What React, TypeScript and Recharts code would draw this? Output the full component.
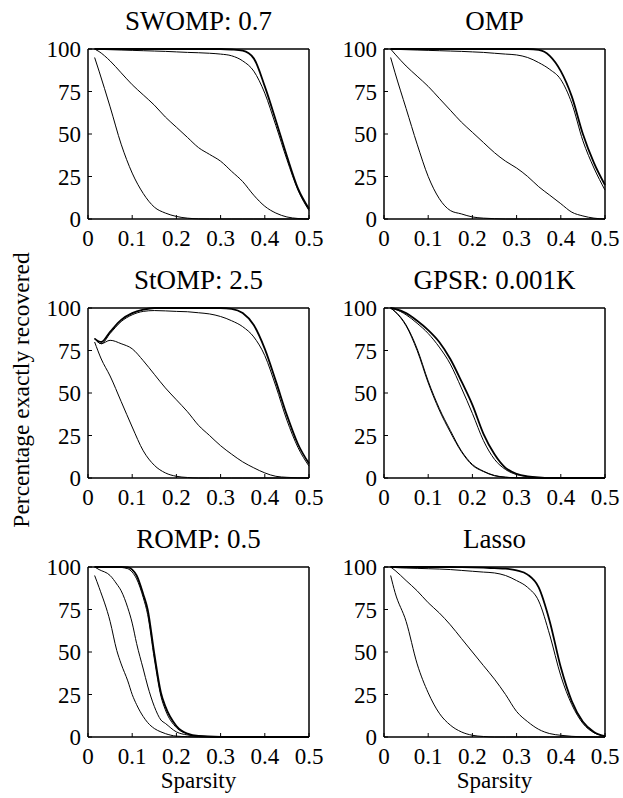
import React from "react";
import { LineChart, Line, XAxis, YAxis } from "recharts";

// sparsity sample points (shared by most panels)
const xGrid = [0.015, 0.025, 0.05, 0.075, 0.1, 0.125, 0.15, 0.175, 0.2, 0.225, 0.25, 0.275, 0.3, 0.325, 0.35, 0.375, 0.4, 0.425, 0.45, 0.475, 0.5];
const xGridStomp = [0.015, 0.03, 0.05, 0.075, 0.1, 0.125, 0.15, 0.175, 0.2, 0.225, 0.25, 0.275, 0.3, 0.325, 0.35, 0.375, 0.4, 0.425, 0.45, 0.475, 0.5];
const xGridRomp = [0.015, 0.025, 0.05, 0.065, 0.075, 0.09, 0.1, 0.11, 0.125, 0.135, 0.15, 0.165, 0.175, 0.2, 0.225, 0.25, 0.3, 0.35, 0.4, 0.45, 0.5];

const xTicks = [0, 0.1, 0.2, 0.3, 0.4, 0.5];
const yTicks = [0, 25, 50, 75, 100];

// SWOMP: 0.7
const swompA = [100, 100, 100, 100, 100, 100, 100, 100, 100, 100, 100, 100, 100, 99.7, 99, 94.5, 78, 58, 37, 18, 6];
const swompB = [100, 99.8, 99.6, 99.4, 99.2, 99, 98.8, 98.6, 98.3, 98, 97.8, 97.5, 97, 96, 93, 87, 74, 55, 35, 17, 5];
const swompC = [100, 98.5, 93, 86, 79, 73, 67, 60, 54, 48, 42, 38, 34, 28, 22, 14, 7.5, 3.5, 1.2, 0.3, 0];
const swompD = [95, 87, 66, 44, 27, 15, 7, 3.5, 1.5, 0.5, 0.1, 0, 0, 0, 0, 0, 0, 0, 0, 0, 0];

// OMP
const ompA = [100, 100, 100, 100, 100, 100, 100, 100, 100, 100, 100, 100, 100, 100, 99.5, 96, 87, 72, 50, 33, 20];
const ompB = [100, 99.8, 99.6, 99.4, 99.2, 99, 98.8, 98.6, 98.3, 98, 97.5, 97, 96.5, 95, 92, 88, 82, 68, 46, 30, 17];
const ompC = [100, 97, 90, 84, 78, 71, 64, 57, 51, 45, 39, 34, 30, 25, 19, 14, 9, 4, 1.8, 0.5, 0];
const ompD = [95, 86, 65, 44, 25, 12, 5, 3, 1.2, 0.5, 0.2, 0, 0, 0, 0, 0, 0, 0, 0, 0, 0];

// StOMP: 2.5
const stompA = [82, 80, 86, 93, 97, 99, 100, 100, 100, 100, 100, 100, 100, 99.5, 97, 90, 76, 57, 37, 20, 8.5];
const stompB = [82, 79, 85, 92, 96, 98, 98.5, 98.3, 98, 97.8, 97.2, 96.5, 95, 92.5, 89, 83, 72, 54, 34, 18, 7];
const stompC = [82, 79, 81, 79, 76, 69, 61, 53, 46, 39, 31, 25, 19, 14, 9.5, 6, 3, 1, 0.4, 0.1, 0];
const stompD = [80, 70, 60, 45, 30, 16, 7.5, 3, 1, 0.3, 0, 0, 0, 0, 0, 0, 0, 0, 0, 0, 0];

// GPSR: 0.001K
const gpsrA = [100, 99.5, 97, 92.5, 87, 80, 70, 57, 43, 26, 14, 6, 2.5, 1, 0.3, 0, 0, 0, 0, 0, 0];
const gpsrB = [100, 99.3, 96, 91, 85, 77, 67, 53, 38, 22, 11, 5, 2, 0.8, 0.2, 0, 0, 0, 0, 0, 0];
const gpsrC = [100, 98, 90, 76, 57, 41, 28, 16, 8, 4, 1.5, 0.5, 0.1, 0, 0, 0, 0, 0, 0, 0, 0];
const gpsrD = [100, 97.8, 89.5, 75, 56, 40, 27, 15.5, 7.5, 3.8, 1.3, 0.4, 0.1, 0, 0, 0, 0, 0, 0, 0, 0];

// ROMP: 0.5
const rompA = [100, 100, 100, 100, 100, 99.8, 98.5, 95, 84, 75, 49, 26, 18, 6.5, 2, 0.6, 0.1, 0, 0, 0, 0];
const rompB = [100, 100, 100, 100, 99.8, 99, 97, 93, 82, 72, 46, 24, 16, 5.5, 1.8, 0.5, 0.1, 0, 0, 0, 0];
const rompC = [100, 98.5, 95, 90, 86, 76, 67, 55, 40, 30, 18, 10, 8, 3, 1.2, 0.5, 0.1, 0, 0, 0, 0];
const rompD = [95, 88, 68, 51, 43, 33, 25, 19, 12, 8.5, 5, 3, 2, 0.5, 0.2, 0, 0, 0, 0, 0, 0];

// Lasso
const lassoA = [100, 100, 100, 100, 100, 100, 100, 99.9, 99.8, 99.6, 99.3, 99, 98, 95.5, 88, 68, 41, 21, 9, 3, 0.5];
const lassoB = [100, 99.7, 99.4, 99.2, 99, 98.8, 98.5, 98, 97.5, 97, 96.5, 95, 92, 88, 80, 60, 36, 19, 8, 2.5, 0.5];
const lassoC = [100, 98, 92, 86, 79, 73, 66, 58, 50, 42, 34, 25, 15, 9, 4.5, 2, 1, 0.4, 0.1, 0, 0];
const lassoD = [95, 85, 68, 43, 26, 14, 7, 3, 1, 0.3, 0, 0, 0, 0, 0, 0, 0, 0, 0, 0, 0];

const FONT = "Liberation Serif";
const W = 221;
const H = 170;
const PAD_L = 70;
const PAD_T = 40;
const PAD_R = 20;
const PAD_B = 40;

const tickStyle = { fontFamily: FONT, fontSize: 23, fill: "#000" };
const boxLine = { stroke: "#000", strokeWidth: 1.5 };
const tickLine = { stroke: "#000", strokeWidth: 1 };

const panels = [
  { title: "SWOMP: 0.7", left: 88, top: 49, xs: xGrid, curves: [swompA, swompB, swompC, swompD] },
  { title: "OMP", left: 384, top: 49, xs: xGrid, curves: [ompA, ompB, ompC, ompD] },
  { title: "StOMP: 2.5", left: 88, top: 308, xs: xGridStomp, curves: [stompA, stompB, stompC, stompD] },
  { title: "GPSR: 0.001K", left: 384, top: 308, xs: xGrid, curves: [gpsrA, gpsrB, gpsrC, gpsrD] },
  { title: "ROMP: 0.5", left: 88, top: 567, xs: xGridRomp, curves: [rompA, rompB, rompC, rompD] },
  { title: "Lasso", left: 384, top: 567, xs: xGrid, curves: [lassoA, lassoB, lassoC, lassoD] },
];

function Panel({ left, top, xs, curves }: { left: number; top: number; xs: number[]; curves: number[][] }) {
  const series = curves.map((c) => xs.map((x, i) => ({ x, y: c[i] })));
  return (
    <div style={{ position: "absolute", left: left - PAD_L, top: top - PAD_T }}>
      <LineChart
        width={W + PAD_L + PAD_R}
        height={H + PAD_T + PAD_B}
        margin={{ top: PAD_T - 1, right: PAD_R - 1, bottom: 0, left: 0 }}
        style={{ fontFamily: FONT }}
      >
        <XAxis
          xAxisId="b"
          type="number"
          dataKey="x"
          domain={[0, 0.5]}
          ticks={xTicks}
          interval={0}
          tickSize={-4}
          tickMargin={15}
          height={PAD_B}
          axisLine={boxLine}
          tickLine={tickLine}
          tick={tickStyle}
          tickFormatter={(v: number) => String(v)}
        />
        <XAxis
          xAxisId="t"
          orientation="top"
          type="number"
          dataKey="x"
          domain={[0, 0.5]}
          ticks={xTicks}
          interval={0}
          tickSize={-4}
          height={1}
          axisLine={boxLine}
          tickLine={tickLine}
          tick={false}
        />
        <YAxis
          yAxisId="l"
          type="number"
          domain={[0, 100]}
          ticks={yTicks}
          interval={0}
          tickSize={-4}
          tickMargin={11}
          width={PAD_L}
          axisLine={boxLine}
          tickLine={tickLine}
          tick={tickStyle}
        />
        <YAxis
          yAxisId="r"
          orientation="right"
          type="number"
          domain={[0, 100]}
          ticks={yTicks}
          interval={0}
          tickSize={-4}
          width={1}
          axisLine={boxLine}
          tickLine={tickLine}
          tick={false}
        />
        {series.map((d, i) => (
          <Line
            key={i}
            xAxisId="b"
            yAxisId="l"
            data={d}
            dataKey="y"
            type="monotone"
            stroke="#000"
            strokeWidth={i === 0 ? 1.8 : 1}
            dot={false}
            activeDot={false}
            isAnimationActive={false}
          />
        ))}
      </LineChart>
    </div>
  );
}

export default function App() {
  return (
    <div
      style={{
        position: "absolute",
        left: 0,
        top: 0,
        width: 623,
        height: 798,
        background: "#fff",
        fontFamily: FONT,
      }}
    >
      {panels.map((p) => (
        <Panel key={p.title} left={p.left} top={p.top} xs={p.xs} curves={p.curves} />
      ))}
      <svg width={623} height={798} style={{ position: "absolute", left: 0, top: 0, pointerEvents: "none" }}>
        {panels.map((p) => (
          <text
            key={p.title}
            x={p.left + W / 2}
            y={p.top - 19}
            textAnchor="middle"
            fontFamily={FONT}
            fontSize={27}
            fill="#000"
          >
            {p.title}
          </text>
        ))}
        <text x={88 + W / 2} y={788} textAnchor="middle" fontFamily={FONT} fontSize={23} fill="#000">
          Sparsity
        </text>
        <text x={384 + W / 2} y={788} textAnchor="middle" fontFamily={FONT} fontSize={23} fill="#000">
          Sparsity
        </text>
        <text
          transform="translate(29,390) rotate(-90)"
          textAnchor="middle"
          fontFamily={FONT}
          fontSize={23.5}
          fill="#000"
        >
          Percentage exactly recovered
        </text>
      </svg>
    </div>
  );
}
